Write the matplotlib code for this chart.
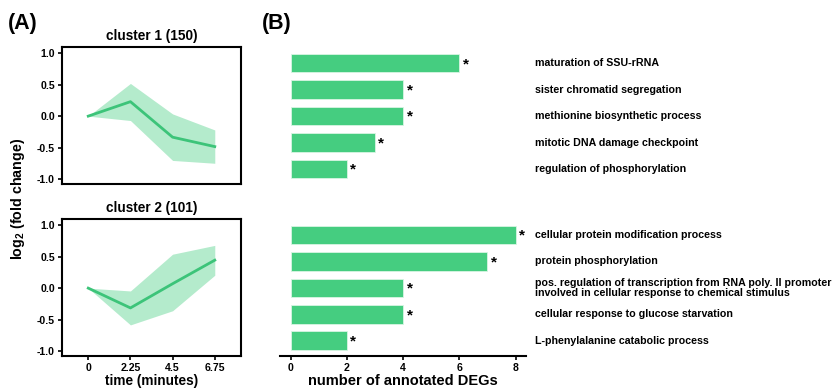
import numpy as np
import matplotlib as mpl
mpl.use('Agg')
import matplotlib.pyplot as plt

plt.rcParams['font.family'] = ['Liberation Sans', 'DejaVu Sans']
plt.rcParams['font.weight'] = 'bold'
plt.rcParams['axes.labelweight'] = 'bold'
plt.rcParams['mathtext.fontset'] = 'custom'
plt.rcParams['mathtext.rm'] = 'Liberation Sans:bold'
plt.rcParams['mathtext.bf'] = 'Liberation Sans:bold'

green = '#45cd80'

# time course per cluster: mean and band limits
time = [0, 2.25, 4.5, 6.75]
c1_mean = [0.0, 0.23, -0.335, -0.485]
c1_upper = [0.0, 0.52, 0.035, -0.22]
c1_lower = [0.0, -0.07, -0.705, -0.75]
c2_mean = [0.0, -0.315, 0.07, 0.445]
c2_upper = [0.0, -0.045, 0.54, 0.68]
c2_lower = [0.0, -0.585, -0.36, 0.205]
titles = ['cluster 1 (150)', 'cluster 2 (101)']

# GO terms for each cluster
terms1 = ['maturation of SSU-rRNA', 'sister chromatid segregation',
          'methionine biosynthetic process', 'mitotic DNA damage checkpoint',
          'regulation of phosphorylation']
counts1 = [6, 4, 4, 3, 2]
terms2 = ['cellular protein modification process', 'protein phosphorylation',
          'pos. regulation of transcription from RNA poly. II promoter\n'
          'involved in cellular response to chemical stimulus',
          'cellular response to glucose starvation',
          'L-phenylalanine catabolic process']
counts2 = [8, 7, 4, 4, 2]

fig = plt.figure(figsize=(8.36, 3.91), dpi=100)

ax1 = fig.add_axes([0.0742, 0.5294, 0.2141, 0.3504])
ax2 = fig.add_axes([0.0742, 0.0895, 0.2141, 0.3504])

for ax, m, up, lo, ttl in [(ax1, c1_mean, c1_upper, c1_lower, titles[0]),
                           (ax2, c2_mean, c2_upper, c2_lower, titles[1])]:
    ax.fill_between(time, lo, up, color=green, alpha=0.4, lw=0)
    ax.plot(time, m, color='#3cc479', lw=2)
    ax.set_xlim(-1.4, 8.15)
    ax.set_ylim(-1.08, 1.1)
    ax.set_yticks([1.0, 0.5, 0.0, -0.5, -1.0])
    ax.set_yticklabels(['1.0', '0.5', '0.0', '-0.5', '-1.0'])
    ax.set_title(ttl, fontsize=9.8, fontweight='bold', pad=5)
    for s in ax.spines.values():
        s.set_linewidth(1.5)
    ax.tick_params(axis='y', labelsize=7.6, width=1.2, length=3, pad=2)

ax1.set_xticks([])
ax2.set_xticks(time)
ax2.set_xticklabels(['0', '2.25', '4.5', '6.75'])
ax2.tick_params(axis='x', labelsize=7.6, width=1.2, length=3, pad=2)
ax2.set_xlabel('time (minutes)', fontsize=9.8, labelpad=1)

fig.text(0.022, 0.49, r'log$_2$ (fold change)', rotation=90,
         fontsize=10.3, fontweight='bold', ha='center', va='center')

# bar chart of annotated DEGs
axb = fig.add_axes([0.3349, 0.0895, 0.2943, 0.790])
pos1 = np.arange(len(counts1))
pos2 = np.arange(len(counts2)) + 6.5
pos = np.concatenate([pos1, pos2])
counts = counts1 + counts2
terms = terms1 + terms2
axb.barh(pos, counts, height=0.7, color=green, edgecolor='#d9f5e4', lw=0.6)
for p, c, t in zip(pos, counts, terms):
    axb.text(c + 0.12, p + 0.03, '*', fontsize=11, fontweight='bold',
             ha='left', va='center')
    axb.text(8.7, p, t, fontsize=7.7, fontweight='bold', ha='left',
             va='center', linespacing=1.0, clip_on=False)
axb.set_xlim(-0.38, 8.37)
axb.set_ylim(11.08, -0.61)
axb.set_yticks([])
axb.set_xticks([0, 2, 4, 6, 8])
axb.tick_params(axis='x', labelsize=7.6, width=1.2, length=3, pad=2)
for s in ['left', 'right', 'top']:
    axb.spines[s].set_visible(False)
axb.spines['bottom'].set_linewidth(1.5)
axb.set_xlabel('number of annotated DEGs', fontsize=10.5, labelpad=1)

fig.text(0.009, 0.94, '(A)', fontsize=15.5, fontweight='bold', va='center')
fig.text(0.313, 0.94, '(B)', fontsize=15.5, fontweight='bold', va='center')

fig.savefig('out.png', dpi=100)
